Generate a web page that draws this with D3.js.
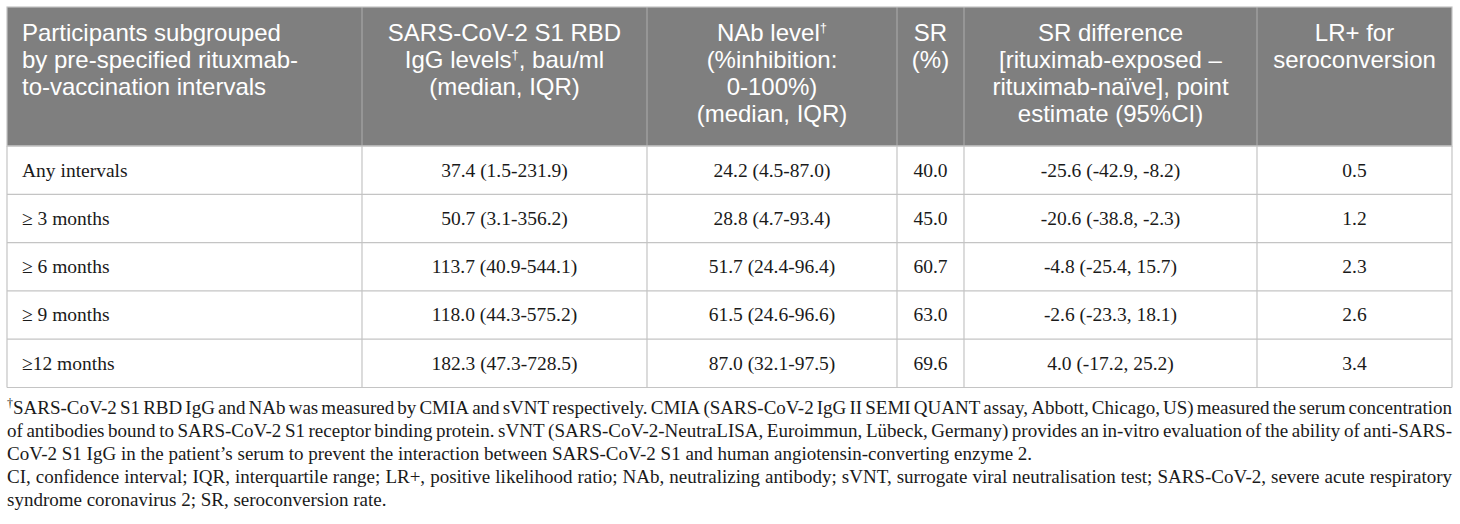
<!DOCTYPE html>
<html>
<head>
<meta charset="utf-8">
<script src="https://cdn.jsdelivr.net/npm/d3@7"></script>
<style>
  html, body { margin: 0; padding: 0; background: #fff; }
  svg { display: block; }
</style>
</head>
<body>
<svg id="chart" width="1460" height="524"></svg>
<script>
// ---- data ----
const headers = [
  ["Participants subgrouped", "by pre-specified rituxmab-", "to-vaccination intervals"],
  ["SARS-CoV-2 S1 RBD", "IgG levels†, bau/ml", "(median, IQR)"],
  ["NAb level†", "(%inhibition:", "0-100%)", "(median, IQR)"],
  ["SR", "(%)"],
  ["SR difference", "[rituximab-exposed –", "rituximab-naïve], point", "estimate (95%CI)"],
  ["LR+ for", "seroconversion"]
];
const intervals = ["Any intervals", "≥ 3 months", "≥ 6 months", "≥ 9 months", "≥12 months"];
const iggLevels = ["37.4 (1.5-231.9)", "50.7 (3.1-356.2)", "113.7 (40.9-544.1)", "118.0 (44.3-575.2)", "182.3 (47.3-728.5)"];
const nabLevels = ["24.2 (4.5-87.0)", "28.8 (4.7-93.4)", "51.7 (24.4-96.4)", "61.5 (24.6-96.6)", "87.0 (32.1-97.5)"];
const srValues = ["40.0", "45.0", "60.7", "63.0", "69.6"];
const srDifference = ["-25.6 (-42.9, -8.2)", "-20.6 (-38.8, -2.3)", "-4.8 (-25.4, 15.7)", "-2.6 (-23.3, 18.1)", "4.0 (-17.2, 25.2)"];
const lrPositive = ["0.5", "1.2", "2.3", "2.6", "3.4"];
const footnoteLines = [
  {text: "†SARS-CoV-2 S1 RBD IgG and NAb was measured by CMIA and sVNT respectively. CMIA (SARS-CoV-2 IgG II SEMI QUANT assay, Abbott, Chicago, US) measured the serum concentration", justify: true},
  {text: "of antibodies bound to SARS-CoV-2 S1 receptor binding protein. sVNT (SARS-CoV-2-NeutraLISA, Euroimmun, Lübeck, Germany) provides an in-vitro evaluation of the ability of anti-SARS-", justify: true},
  {text: "CoV-2 S1 IgG in the patient’s serum to prevent the interaction between SARS-CoV-2 S1 and human angiotensin-converting enzyme 2.", justify: false},
  {text: "CI, confidence interval; IQR, interquartile range; LR+, positive likelihood ratio; NAb, neutralizing antibody; sVNT, surrogate viral neutralisation test; SARS-CoV-2, severe acute respiratory", justify: true},
  {text: "syndrome coronavirus 2; SR, seroconversion rate.", justify: false}
];

// ---- layout ----
const colEdges = [7, 362, 647, 897, 964, 1257, 1452];
const tableTop = 7, headerBottom = 146, tableBottom = 387.5;
const headFont = "'Liberation Sans', Arial, sans-serif";
const bodyFont = "'Liberation Serif', 'Times New Roman', serif";

const columns = [intervals, iggLevels, nabLevels, srValues, srDifference, lrPositive];
const nRows = intervals.length;

const svg = d3.select("#chart");

const xCol = d3.scaleOrdinal().domain(d3.range(colEdges.length)).range(colEdges);
const yRow = d3.scaleBand().domain(d3.range(nRows)).range([headerBottom, tableBottom]).padding(0);
const yHead = d3.scaleLinear().domain([0, 1]).range([41, 68]);
const yFoot = d3.scaleLinear().domain([0, 1]).range([413.5, 436.6]);

// header background
svg.append("rect")
  .attr("x", colEdges[0]).attr("y", tableTop)
  .attr("width", colEdges[colEdges.length - 1] - colEdges[0])
  .attr("height", headerBottom - tableTop)
  .attr("fill", "#7f7f7f");

// horizontal lines between rows
svg.append("g").selectAll("line")
  .data(d3.range(nRows + 1))
  .join("line")
  .attr("x1", colEdges[0]).attr("x2", colEdges[colEdges.length - 1])
  .attr("y1", i => i === nRows ? tableBottom : yRow(i))
  .attr("y2", i => i === nRows ? tableBottom : yRow(i))
  .attr("stroke", "#c4c4c4").attr("stroke-width", 1.2);

// vertical lines (body)
svg.append("g").selectAll("line")
  .data(d3.range(colEdges.length))
  .join("line")
  .attr("x1", i => xCol(i)).attr("x2", i => xCol(i))
  .attr("y1", headerBottom).attr("y2", tableBottom)
  .attr("stroke", "#c4c4c4").attr("stroke-width", 1.2);

// vertical lines (header)
svg.append("g").selectAll("line")
  .data(d3.range(1, colEdges.length - 1))
  .join("line")
  .attr("x1", i => xCol(i)).attr("x2", i => xCol(i))
  .attr("y1", tableTop).attr("y2", headerBottom)
  .attr("stroke", "#a6a6a6").attr("stroke-width", 1.2);

// outer border of header
svg.append("rect")
  .attr("x", colEdges[0]).attr("y", tableTop)
  .attr("width", colEdges[colEdges.length - 1] - colEdges[0])
  .attr("height", headerBottom - tableTop)
  .attr("fill", "none").attr("stroke", "#c4c4c4").attr("stroke-width", 1.2);

// header text: one text element per cell, one tspan per line
const headG = svg.append("g")
  .attr("font-family", headFont).attr("font-size", 24).attr("fill", "#ffffff");
headers.forEach((lines, ci) => {
  const left = ci === 0;
  const x = left ? xCol(0) + 15 : (xCol(ci) + xCol(ci + 1)) / 2;
  const t = headG.append("text").attr("text-anchor", left ? "start" : "middle");
  lines.forEach((ln, li) => {
    const lt = t.append("tspan").attr("x", x).attr("y", yHead(li));
    const parts = ln.split("†");
    parts.forEach((p, pi) => {
      if (pi > 0) {
        lt.append("tspan").attr("font-size", 13).attr("dy", -9).text("†");
        lt.append("tspan").attr("dy", 9).text(p);
      } else {
        lt.append("tspan").text(p);
      }
    });
  });
});

// body text
const bodyG = svg.append("g")
  .attr("font-family", bodyFont).attr("font-size", 19.5).attr("fill", "#1a1a1a");
columns.forEach((vals, ci) => {
  const left = ci === 0;
  bodyG.append("g").selectAll("text")
    .data(vals)
    .join("text")
    .attr("x", left ? xCol(0) + 15 : (xCol(ci) + xCol(ci + 1)) / 2)
    .attr("y", (d, i) => yRow(i) + yRow.bandwidth() / 2)
    .attr("dy", "0.33em")
    .attr("text-anchor", left ? "start" : "middle")
    .text(d => d);
});

// footnotes (justified lines)
const footG = svg.append("g")
  .attr("font-family", bodyFont).attr("font-size", 19).attr("fill", "#1a1a1a");
const fx0 = colEdges[0], fx1 = colEdges[colEdges.length - 1];
function addWord(g, w, x, y) {
  const t = g.append("text").attr("x", x).attr("y", y);
  if (w.startsWith("†")) {
    t.append("tspan").attr("font-size", 12).attr("dy", -7).text("†");
    t.append("tspan").attr("dy", 7).text(w.slice(1));
  } else {
    t.text(w);
  }
  return t;
}
footnoteLines.forEach((ln, li) => {
  const y = yFoot(li);
  const words = ln.text.split(" ");
  const lg = footG.append("g");
  const nodes = words.map(w => addWord(lg, w, 0, y));
  const widths = nodes.map(n => n.node().getComputedTextLength());
  const spaceW = (() => {
    const t = lg.append("text").text("a a");
    const t2 = lg.append("text").text("aa");
    const s = t.node().getComputedTextLength() - t2.node().getComputedTextLength();
    t.remove(); t2.remove();
    return s;
  })();
  const total = d3.sum(widths);
  const gap = ln.justify ? (fx1 - fx0 - total) / (words.length - 1) : spaceW;
  let x = fx0;
  nodes.forEach((n, i) => {
    n.attr("x", x);
    x += widths[i] + gap;
  });
});
</script>
</body>
</html>
